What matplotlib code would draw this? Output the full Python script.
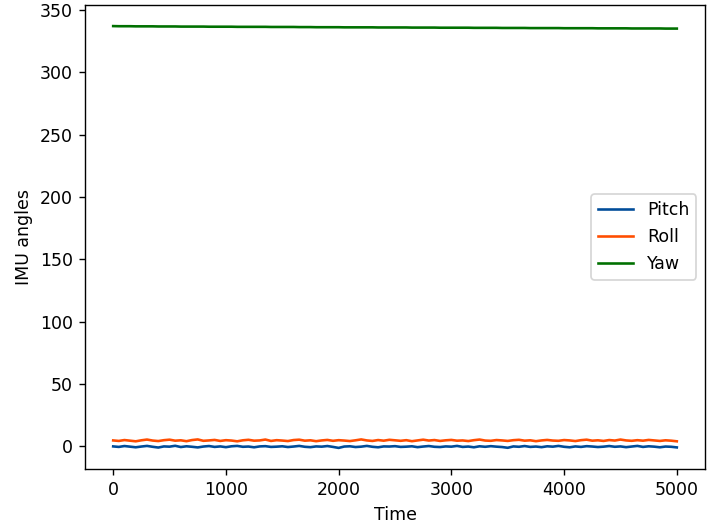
import numpy as np
import matplotlib
matplotlib.use("Agg")
import matplotlib.pyplot as plt

time = list(range(0, 5001, 50))

pitch = [-0.2, -0.6, 0.1, -0.4, -0.9, -0.3, 0.2, -0.5, -1.1, -0.2,
         -0.4, 0.3, -0.7, -0.1, -0.5, -1.0, -0.3, 0.1, -0.6, -0.2,
         -0.8, -0.1, 0.2, -0.5, -0.3, -0.9, -0.2, 0.0, -0.6, -0.4,
         -0.1, -0.7, -0.3, 0.2, -0.5, -0.8, -0.2, -0.4, 0.1, -0.6,
         -1.4, -0.3, -0.1, -0.7, -0.4, 0.2, -0.5, -0.9, -0.2, -0.3,
         0.0, -0.6, -0.4, -0.1, -0.8, -0.3, 0.1, -0.5, -0.7, -0.2,
         -0.4, 0.2, -0.6, -0.3, -0.9, -0.1, -0.5, 0.0, -0.4, -0.7,
         -1.3, -0.2, -0.5, 0.1, -0.6, -0.3, -0.8, -0.1, -0.4, 0.2,
         -0.5, -0.9, -0.2, -0.6, 0.0, -0.3, -0.7, -0.4, 0.1, -0.5,
         -0.2, -0.8, -0.3, 0.2, -0.6, -0.1, -0.4, -0.9, -0.3, -0.5,
         -1.0]

roll = [4.6, 4.2, 4.9, 4.4, 3.9, 4.7, 5.3, 4.5, 4.1, 4.8,
        5.2, 4.4, 4.7, 4.0, 4.9, 5.4, 4.3, 4.6, 5.0, 4.2,
        4.8, 4.5, 3.9, 4.7, 5.1, 4.4, 4.6, 5.3, 4.2, 4.8,
        4.5, 4.1, 4.9, 5.2, 4.4, 4.7, 4.0, 4.6, 5.0, 4.3,
        4.8, 4.5, 4.1, 4.7, 5.4, 4.6, 4.2, 4.9, 4.4, 5.1,
        4.7, 4.3, 4.8, 4.0, 4.6, 5.2, 4.5, 4.9, 4.2, 4.7,
        5.0, 4.4, 4.6, 4.1, 4.8, 5.3, 4.5, 4.3, 4.9, 4.6,
        4.2, 4.8, 5.1, 4.4, 4.7, 4.0, 4.6, 5.0, 4.5, 4.3,
        4.9, 4.6, 4.1, 4.8, 5.2, 4.4, 4.7, 4.2, 4.9, 4.5,
        5.3, 4.6, 4.3, 4.8, 4.4, 5.0, 4.6, 4.2, 4.7, 4.4,
        3.9]

yaw = [337.1, 337.0, 337.0, 337.0, 336.9, 336.9, 336.9, 336.9, 336.8, 336.8,
       336.8, 336.8, 336.7, 336.7, 336.7, 336.7, 336.7, 336.6, 336.6, 336.6,
       336.6, 336.6, 336.5, 336.5, 336.5, 336.5, 336.5, 336.5, 336.4, 336.4,
       336.4, 336.4, 336.4, 336.3, 336.3, 336.3, 336.2, 336.2, 336.2, 336.2,
       336.2, 336.1, 336.1, 336.1, 336.1, 336.1, 336.1, 336.0, 336.0, 336.0,
       336.0, 336.0, 336.0, 335.9, 335.9, 335.9, 335.9, 335.9, 335.8, 335.8,
       335.8, 335.8, 335.8, 335.8, 335.7, 335.7, 335.7, 335.7, 335.7, 335.6,
       335.6, 335.6, 335.6, 335.6, 335.5, 335.5, 335.5, 335.5, 335.5, 335.5,
       335.4, 335.4, 335.4, 335.4, 335.4, 335.4, 335.3, 335.3, 335.3, 335.3,
       335.3, 335.3, 335.2, 335.2, 335.2, 335.2, 335.2, 335.2, 335.1, 335.1,
       335.1]

DPI = 125
fig, ax = plt.subplots(figsize=(713 / DPI, 527 / DPI), dpi=DPI)
ax.plot(time, pitch, color="#004c99", label="Pitch")
ax.plot(time, roll, color="#ff4d00", label="Roll")
ax.plot(time, yaw, color="#007000", label="Yaw")
ax.set_xlabel("Time")
ax.set_ylabel("IMU angles")
ax.legend(loc="center right")
fig.subplots_adjust(left=85 / 713, right=705 / 713, top=1 - 5 / 527, bottom=1 - 469 / 527)
fig.savefig("out.png", dpi=DPI)
